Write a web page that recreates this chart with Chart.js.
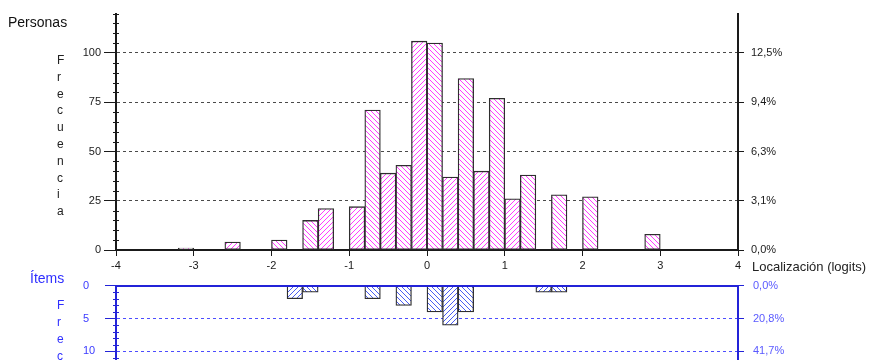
<!DOCTYPE html>
<html>
<head>
<meta charset="utf-8">
<script src="https://cdn.jsdelivr.net/npm/chart.js@4.4.1/dist/chart.umd.min.js"></script>
<style>
  html, body { margin: 0; padding: 0; background: #fff; }
  body { width: 870px; height: 360px; overflow: hidden; position: relative; font-family: "Liberation Sans", Arial, sans-serif; }
  canvas { position: absolute; left: 0; }
  #top { top: 0; }
  #bottom { top: 270px; }
  .lbl { position: absolute; white-space: nowrap; line-height: 1; }
  .vert { position: absolute; width: 1px; word-break: break-all; text-align: center; font-size: 12px; }
</style>
</head>
<body>
<canvas id="top" width="870" height="275"></canvas>
<canvas id="bottom" width="870" height="130"></canvas>

<div class="lbl" style="left:8px; top:15px; font-size:14px; color:#111;">Personas</div>
<div class="vert" style="left:57px; top:52px; line-height:16.8px; color:#222;">Frecuencia</div>
<div class="lbl" style="left:752px; top:260px; font-size:13px; color:#222;">Localización (logits)</div>
<div class="lbl" style="left:30px; top:271px; font-size:14px; color:#2f2fff;">Ítems</div>
<div class="vert" style="left:57px; top:297px; line-height:17px; color:#2f2fff;">Frecuencia</div>

<script>
"use strict";

// ---- data ----
// bin centres in logits, bins are 0.2 wide
const personLoc = [-3.1, -2.5, -1.9, -1.5, -1.3, -0.9, -0.7, -0.5, -0.3, -0.1, 0.1, 0.3, 0.5, 0.7, 0.9, 1.1, 1.3, 1.7, 2.1, 2.9];
const personCounts = [1, 4, 5, 15, 21, 22, 71, 39, 43, 106, 105, 37, 87, 40, 77, 26, 38, 28, 27, 8];

const itemLoc = [-1.7, -1.5, -0.7, -0.3, 0.1, 0.3, 0.5, 1.5, 1.7];
const itemCounts = [2, 1, 2, 3, 4, 6, 4, 1, 1];

const xTicks = [-4, -3, -2, -1, 0, 1, 2, 3, 4];
const personTicks = [0, 25, 50, 75, 100];
const personPct = ["0,0%", "3,1%", "6,3%", "9,4%", "12,5%"];
const itemTicks = [0, 5, 10];
const itemPct = ["0,0%", "20,8%", "41,7%"];

Chart.defaults.font.family = '"Liberation Sans", Arial, sans-serif';
Chart.defaults.font.size = 11;
Chart.defaults.animation = false;

const BLACK = "#1a1a1a";
const BLUE = "#2323d8";
const BLUE_TXT = "#3a3aff";

// white tile with one diagonal; forward = "/"
function hatch(canvas, color, forward) {
  const s = 5;
  const tile = document.createElement("canvas");
  tile.width = s;
  tile.height = s;
  const g = tile.getContext("2d");
  g.fillStyle = "#fff";
  g.fillRect(0, 0, s, s);
  g.strokeStyle = color;
  g.lineWidth = 1;
  g.beginPath();
  if (forward) {
    g.moveTo(0, s); g.lineTo(s, 0);
    g.moveTo(-1, 1); g.lineTo(1, -1);
    g.moveTo(s - 1, s + 1); g.lineTo(s + 1, s - 1);
  } else {
    g.moveTo(0, 0); g.lineTo(s, s);
    g.moveTo(-1, s - 1); g.lineTo(1, s + 1);
    g.moveTo(s - 1, -1); g.lineTo(s + 1, 1);
  }
  g.stroke();
  return canvas.getContext("2d").createPattern(tile, "repeat");
}

// odd bins get "/", even bins "\" (that gives the herringbone look)
function hatchFor(pats) {
  return (ctx) => {
    const x = ctx.raw ? ctx.raw.x : 0;
    const bin = Math.round((x + 4) / 0.2 - 0.5);
    return bin % 2 ? pats[1] : pats[0];
  };
}

const fixTicks = (vals) => (s) => { s.ticks = vals.map((v) => ({ value: v })); };

// short minor ticks straddling the left axis
const minorTicks = {
  id: "minorTicks",
  afterDraw(chart, args, opts) {
    const s = chart.scales.y;
    const g = chart.ctx;
    g.save();
    g.strokeStyle = opts.color;
    g.lineWidth = 1;
    g.beginPath();
    for (let v = opts.step; v <= s.max; v += opts.step) {
      if (v % opts.major === 0) continue;
      const py = Math.round(s.getPixelForValue(v)) + 0.5;
      g.moveTo(s.right - 3, py);
      g.lineTo(s.right + 3, py);
    }
    g.stroke();
    g.restore();
  },
};

// ---- persons (top) ----
const topCanvas = document.getElementById("top");
const pinkPats = [hatch(topCanvas, "#ff3cff", false), hatch(topCanvas, "#ff3cff", true)];

new Chart(topCanvas, {
  type: "bar",
  data: {
    datasets: [{
      data: personLoc.map((x, i) => ({ x, y: personCounts[i] })),
      backgroundColor: hatchFor(pinkPats),
      borderColor: "#2e2e2e",
      borderWidth: 1.3,
      borderSkipped: false,
      barPercentage: 1,
      categoryPercentage: 1,
    }],
  },
  options: {
    responsive: false,
    layout: { padding: { top: 12, left: 0, right: 0, bottom: 0 } },
    plugins: { legend: { display: false }, tooltip: { enabled: false }, minorTicks: { step: 5, major: 25, color: BLACK } },
    scales: {
      x: {
        type: "linear", min: -4, max: 4, offset: false,
        afterBuildTicks: fixTicks(xTicks),
        afterFit: (s) => { s.height = 25; },
        ticks: { color: BLACK, padding: 3, callback: (v) => String(v) },
        grid: { offset: false, drawOnChartArea: false, tickLength: 6, tickColor: BLACK },
        border: { color: BLACK, width: 2 },
      },
      y: {
        min: 0, max: 120,
        afterBuildTicks: fixTicks(personTicks),
        afterFit: (s) => { s.width = 116; },
        ticks: { color: BLACK, padding: 3 },
        grid: {
          color: (c) => (c.tick && c.tick.value === 0 ? "rgba(0,0,0,0)" : "#4a4a4a"),
          tickColor: BLACK, tickLength: 12, lineWidth: 1,
        },
        border: { color: BLACK, width: 2, dash: [3, 3] },
      },
      y1: {
        position: "right", min: 0, max: 120,
        afterBuildTicks: fixTicks(personTicks),
        afterFit: (s) => { s.width = 132; },
        ticks: { color: BLACK, padding: 7, callback: (v, i) => personPct[i] },
        grid: { drawOnChartArea: false, tickLength: 6, tickColor: BLACK },
        border: { color: BLACK, width: 2 },
      },
    },
  },
  plugins: [minorTicks],
});

// ---- items (bottom, hanging down) ----
const botCanvas = document.getElementById("bottom");
const bluePats = [hatch(botCanvas, "#4b5cf2", false), hatch(botCanvas, "#4b5cf2", true)];

new Chart(botCanvas, {
  type: "bar",
  data: {
    datasets: [{
      data: itemLoc.map((x, i) => ({ x, y: itemCounts[i] })),
      backgroundColor: hatchFor(bluePats),
      borderColor: "#2e2e2e",
      borderWidth: 1.3,
      barPercentage: 1,
      categoryPercentage: 1,
    }],
  },
  options: {
    responsive: false,
    layout: { padding: { top: 14, left: 83, right: 0, bottom: 11 } },
    plugins: { legend: { display: false }, tooltip: { enabled: false }, minorTicks: { step: 1, major: 5, color: BLUE } },
    scales: {
      x: {
        type: "linear", min: -4, max: 4, position: "top", offset: false,
        afterFit: (s) => { s.height = 0; },
        ticks: { display: false },
        grid: { display: false, offset: false },
        border: { color: BLUE, width: 2, z: 1 },
      },
      y: {
        min: 0, max: 15, reverse: true,
        afterBuildTicks: fixTicks(itemTicks),
        afterFit: (s) => { s.width = 33; },
        ticks: { color: BLUE_TXT, padding: 3, crossAlign: "far" },
        grid: {
          color: (c) => (c.tick && c.tick.value === 0 ? "rgba(0,0,0,0)" : "#4d4dff"),
          tickColor: BLUE, tickLength: 11, lineWidth: 1,
        },
        border: { color: BLUE, width: 2, dash: [3, 3] },
      },
      y1: {
        position: "right", min: 0, max: 15, reverse: true,
        afterBuildTicks: fixTicks(itemTicks),
        afterFit: (s) => { s.width = 132; },
        ticks: { color: "#5a5aff", padding: 9, callback: (v, i) => itemPct[i] },
        grid: { drawOnChartArea: false, tickLength: 6, tickColor: BLUE },
        border: { color: BLUE, width: 2 },
      },
    },
  },
  plugins: [minorTicks],
});
</script>
</body>
</html>
